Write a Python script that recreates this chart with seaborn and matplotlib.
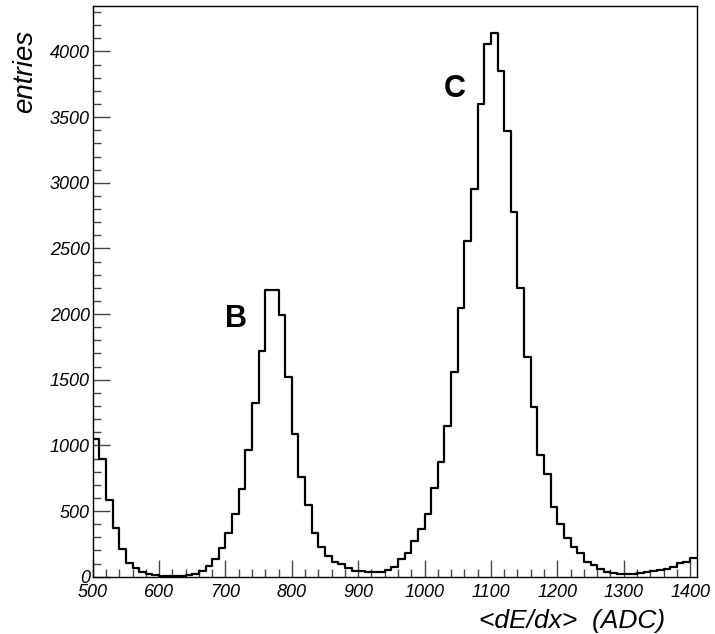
import matplotlib
matplotlib.use('Agg')
import matplotlib.pyplot as plt
import seaborn as sns
import numpy as np
import pandas as pd
from matplotlib.ticker import MultipleLocator

# histogram content, 10 ADC bins starting at 500
bin_start = list(range(500, 1410, 10))
entries = [
    1049, 900, 587, 370, 208, 104, 64, 38, 23, 14,
    8, 6, 5, 6, 10, 20, 46, 84, 135, 216,
    330, 475, 665, 965, 1325, 1719, 2180, 2180, 1993, 1523,
    1087, 757, 543, 330, 229, 158, 114, 95, 64, 46,
    40, 36, 35, 38, 51, 76, 132, 178, 272, 363,
    475, 678, 876, 1148, 1561, 2050, 2557, 2950, 3598, 4055,
    4138, 3854, 3394, 2778, 2196, 1671, 1295, 927, 780, 528,
    401, 292, 229, 183, 114, 89, 56, 38, 26, 20,
    20, 23, 28, 33, 43, 51, 56, 76, 102, 114,
    140,
]

peak_labels = ['B', 'C']
peak_x = [716, 1046]
peak_y = [1965, 3713]

df = pd.DataFrame({'adc': np.array(bin_start) + 5, 'entries': entries})
bin_edges = bin_start + [bin_start[-1] + 10]

sns.set_style('white')
plt.rcParams['font.family'] = ['Liberation Sans', 'DejaVu Sans']
plt.rcParams['text.color'] = 'black'
plt.rcParams['axes.labelcolor'] = 'black'

fig = plt.figure(figsize=(7.15, 6.34), dpi=100)
ax = fig.add_axes([0.1297, 0.0904, 0.8447, 0.9001])

sns.histplot(data=df, x='adc', weights='entries', bins=bin_edges, element='step',
             fill=False, color='black', linewidth=1.6, ax=ax)

ax.set_xlim(500, 1410)
ax.set_ylim(0, 4346)

ax.xaxis.set_major_locator(MultipleLocator(100))
ax.xaxis.set_minor_locator(MultipleLocator(20))
ax.yaxis.set_major_locator(MultipleLocator(500))
ax.yaxis.set_minor_locator(MultipleLocator(100))
ax.tick_params(which='both', direction='in', bottom=True, left=True, top=False, right=False,
               color='#444444', width=1.0, labelsize=13, labelcolor='black')
ax.tick_params(which='major', length=12)
ax.tick_params(which='minor', length=6)
ax.tick_params(axis='x', pad=5)
ax.tick_params(axis='y', pad=2)
for lab in ax.get_xticklabels() + ax.get_yticklabels():
    lab.set_fontstyle('italic')

for sp in ax.spines.values():
    sp.set_color('black')
    sp.set_linewidth(1.0)

ax.set_xlabel('<dE/dx>  (ADC)', fontsize=19, fontstyle='italic', loc='right')
ax.set_ylabel('entries', fontsize=20, fontstyle='italic', loc='top')
ax.xaxis.set_label_coords(0.9475, -0.057)
ax.yaxis.set_label_coords(-0.091, 0.958)

for t, x, y in zip(peak_labels, peak_x, peak_y):
    ax.text(x, y, t, fontsize=22, fontweight='bold', ha='center', va='center')

fig.savefig('out.png', dpi=100)
